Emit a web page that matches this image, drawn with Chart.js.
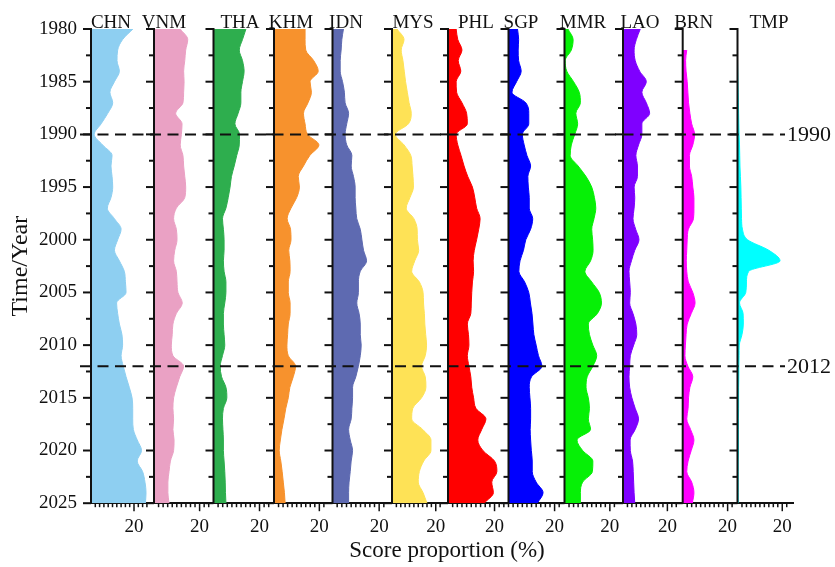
<!DOCTYPE html>
<html>
<head>
<meta charset="utf-8">
<script src="https://cdn.jsdelivr.net/npm/chart.js@4/dist/chart.umd.min.js"></script>
<style>
	html, body { margin: 0; padding: 0; background: #fff; }
	#wrap { width: 835px; height: 567px; }
</style>
</head>
<body>
<div id="wrap"><canvas id="mycanvas"></canvas></div>
<script>
var years = [1980,1981,1982,1983,1984,1985,1986,1987,1988,1989,
	1990,1991,1992,1993,1994,1995,1996,1997,1998,1999,
	2000,2001,2002,2003,2004,2005,2006,2007,2008,2009,
	2010,2011,2012,2013,2014,2015,2016,2017,2018,2019,
	2020,2021,2022,2023,2024,2025];

var countries = ['CHN','VNM','THA','KHM','IDN','MYS','PHL','SGP','MMR','LAO','BRN','TMP'];

// score proportion (%) per year, 1980 -> 2025
var chn = [19.5,14.7,12.4,12.1,13.2,10.9,8.8,10.1,7.8,4.7, 1.5,5.4,9.8,9.3,9.8,10.1,9.3,7.6,10.9,14.0, 12.4,10.9,13.2,15.5,16.0,16.3,11.9,12.4,13.2,14.4, 14.7,14.0,15.0,16.3,17.8,19.1,19.4,19.4,19.7,21.5, 23.5,21.5,24.0,25.1,25.6,25.3];
var vnm = [11.5,14.8,13.9,13.5,13.0,13.2,13.0,12.7,9.5,12.3, 12.0,11.5,12.7,13.0,13.5,13.9,13.5,9.8,8.6,9.8, 10.1,9.1,8.6,9.8,10.1,10.5,12.4,9.8,8.3,8.0, 7.6,8.3,13.0,11.3,9.8,8.6,8.3,8.6,8.3,8.8, 8.6,7.2,6.6,6.1,6.1,6.6];
var tha = [14.1,12.6,11.2,12.6,13.3,12.6,11.9,11.9,10.7,9.3, 11.3,11.2,10.1,9.0,7.8,7.2,6.4,5.4,3.9,4.3, 4.6,4.6,4.3,4.6,5.4,5.4,4.9,4.3,4.3,4.6, 4.9,3.9,2.9,3.5,5.4,5.8,4.3,3.9,4.1,4.3, 4.3,4.6,4.9,5.1,5.2,5.4];
var khm = [13.7,13.7,14.0,17.5,19.5,15.9,16.5,15.0,13.0,13.7, 14.8,19.8,15.8,13.0,10.7,11.2,10.0,7.5,5.8,7.3, 7.5,6.5,7.0,7.1,6.3,6.3,7.1,7.1,6.3,6.0, 5.7,6.3,9.5,8.5,7.0,6.3,5.2,4.4,3.5,2.8, 2.3,3.0,3.6,4.1,4.6,4.9];
var idn = [4.7,4.0,3.7,3.3,3.3,4.3,5.1,5.4,6.9,6.1, 5.4,6.1,8.3,8.0,9.0,9.7,9.7,10.0,10.4,11.9, 12.6,13.3,14.6,11.9,11.1,11.1,10.4,11.4,11.9,11.9, 12.3,11.9,11.1,10.0,8.6,8.6,8.3,8.0,6.9,7.6, 8.6,8.0,7.6,7.1,6.9,6.9];
var mys = [2.3,5.5,4.2,5.0,5.6,6.2,7.0,7.8,8.8,7.5, 1.5,5.5,8.6,9.2,9.6,9.8,8.2,6.5,10.0,11.5, 11.6,12.2,10.4,9.0,12.5,14.2,14.4,14.8,15.0,15.4, 15.8,15.2,13.5,15.2,15.5,13.5,9.5,9.0,14.0,17.8, 17.8,14.5,12.5,12.0,14.2,16.0];
var phl = [3.5,4.2,6.0,4.4,5.5,3.5,3.7,6.0,8.0,8.3, 3.5,4.2,5.6,6.9,8.5,10.5,11.5,12.3,13.8,13.2, 12.3,11.3,10.8,11.0,10.5,10.2,10.0,9.8,8.3,8.8, 9.0,8.3,9.0,9.8,10.2,11.0,12.0,16.3,14.5,12.8, 15.0,20.0,21.0,18.8,19.5,15.5];
var sgp = [3.9,4.4,4.2,4.4,5.5,3.5,1.5,7.5,8.8,8.8, 6.0,6.8,8.0,9.6,8.4,8.6,9.0,9.0,10.5,9.6, 7.5,6.5,5.0,4.5,7.0,8.8,9.5,10.2,10.6,11.0, 12.0,13.0,14.5,10.0,9.0,9.3,9.6,9.6,9.4,9.6, 9.9,10.3,10.3,12.0,15.0,12.5];
var mmr = [1.5,3.8,3.0,0.3,1.0,4.0,6.5,7.0,5.0,5.8, 4.5,3.0,2.5,6.0,9.5,12.0,13.2,13.8,13.0,12.0, 12.4,12.6,11.5,9.0,12.0,15.3,16.3,14.5,10.5,11.0, 12.5,14.2,12.5,10.0,9.5,10.5,11.0,10.5,11.5,5.5, 8.0,12.5,12.3,8.0,7.0,7.0];
var lao = [7.8,6.0,5.0,5.5,7.5,10.5,8.5,10.5,12.0,8.5, 8.5,7.0,5.8,6.5,6.5,5.0,5.3,5.0,4.5,5.7, 7.2,5.3,3.8,2.7,3.0,3.3,3.0,4.5,5.8,6.2, 4.8,3.3,3.0,2.7,3.0,4.0,5.5,7.0,5.5,3.2, 3.3,4.3,4.6,4.8,5.0,5.3];
var brn = [null,null,1.8,1.3,1.5,2.0,2.3,2.6,3.2,4.0, 5.3,4.5,3.0,3.0,4.0,4.5,5.0,5.0,4.8,2.5, 2.0,1.8,1.6,1.8,2.5,4.5,5.5,3.8,2.0,1.5, 1.2,1.0,2.3,4.5,3.2,2.6,2.4,1.8,3.5,5.0, 3.8,2.4,1.8,4.0,5.0,4.3];
var tmp = [0,0,0,0,0.1,0.2,0.3,0.4,0.5,0.6, 0.7,0.9,1.0,1.1,1.3,1.5,1.6,1.7,1.8,2.2, 4.5,14.0,19.0,5.0,4.0,3.7,0.9,2.5,2.6,2.0, 0.8,0.7,0.6,0.6,0.5,0.5,0.5,0.4,0.4,0.4, 0.4,0.3,0.3,0.3,0.3,0.3];

var series = [chn, vnm, tha, khm, idn, mys, phl, sgp, mmr, lao, brn, tmp];
var markYears = [1990, 2012];

// look of each panel
var colors = ['#8ecff1','#eaa1c4','#2eae4e','#f7922d','#5e6ab1','#fee256','#ff0000','#0000ff','#06f006','#7f00ff','#ff00ff','#00ffff'];
var panelMax = [29.3, 26.1, 26.3, 25.8, 25.5, 25.6, 26.0, 24.3, 25.8, 26.9, 24.4, 24.8];
var panelWidth = [63, 59.5, 60.5, 58.5, 59.5, 56, 60.5, 56, 58.5, 59.7, 54.8, 55.5];
var titleShift = [20, 10, 26.5, 17, 13.5, 21, 28, 12.5, 18.5, 17, 11, 31.5];

var serif = '"Liberation Serif", "Times New Roman", serif';
var ink = '#111';

var datasets = [];
var scales = {};

for (var i in countries) {
	var vals = series[i];
	var pts = [];
	for (var k in years) {
		if (vals[k] !== null) pts.push({x: vals[k], y: years[k]});
	}
	datasets.push({
		label: countries[i],
		data: pts,
		xAxisID: 'x' + i,
		yAxisID: 'y',
		backgroundColor: colors[i],
		borderColor: colors[i],
		borderWidth: 1,
		pointRadius: 0,
		fill: 'origin',
		cubicInterpolationMode: 'monotone'
	});
	scales['x' + i] = {
		type: 'linear',
		axis: 'x',
		position: 'bottom',
		stack: 'panels',
		stackWeight: panelWidth[i],
		min: 0,
		max: panelMax[i],
		bounds: 'data',
		grid: { drawOnChartArea: false, drawTicks: true, tickLength: 8, tickColor: 'rgba(0,0,0,0)' },
		border: { display: true, color: ink, width: 2 },
		ticks: {
			stepSize: 2,
			autoSkip: false,
			maxRotation: 0,
			minRotation: 0,
			padding: 4,
			color: ink,
			font: { family: serif, size: 19 },
			callback: function(v) { return v === 20 ? '20' : ''; }
		}
	};
}

scales.y = {
	type: 'linear',
	position: 'left',
	reverse: true,
	min: 1980,
	max: 2025,
	bounds: 'data',
	grid: { drawOnChartArea: false, drawTicks: true, tickLength: 8, tickColor: 'rgba(0,0,0,0)' },
	border: { display: true, color: ink, width: 2 },
	ticks: {
		stepSize: 2.5,
		maxTicksLimit: 100,
		autoSkip: false,
		padding: 6,
		color: ink,
		font: { family: serif, size: 19 },
		callback: function(v) { return v % 5 === 0 ? String(v) : ''; }
	},
	title: {
		display: true,
		text: 'Time/Year',
		color: ink,
		font: { family: serif, size: 24, lineHeight: 1 },
		padding: { top: 6, bottom: 0 }
	}
};

// panel axes, tick marks, names, the two dashed reference years
var panelPlugin = {
	id: 'panels',
	afterDatasetsDraw: function(chart) {
		var ctx = chart.ctx;
		var area = chart.chartArea;
		var ys = chart.scales.y;
		ctx.save();
		ctx.strokeStyle = ink;
		ctx.fillStyle = ink;

		ctx.lineWidth = 2;
		ctx.setLineDash([11, 6.5]);
		for (var m in markYears) {
			var my = ys.getPixelForValue(markYears[m]);
			ctx.beginPath();
			ctx.moveTo(area.left - 11, my);
			ctx.lineTo(area.right - 8, my);
			ctx.stroke();
		}
		ctx.setLineDash([]);

		for (var i in countries) {
			var xs = chart.scales['x' + i];
			var x0 = xs.getPixelForValue(0);

			ctx.lineWidth = 2;
			ctx.beginPath();
			ctx.moveTo(x0, area.top - 1);
			ctx.lineTo(x0, area.bottom);
			ctx.stroke();

			ys.ticks.forEach(function(t) {
				var py = ys.getPixelForValue(t.value);
				var len = t.value % 5 === 0 ? 8 : 5;
				ctx.beginPath();
				ctx.moveTo(x0 - len, py);
				ctx.lineTo(x0, py);
				ctx.stroke();
			});

			ctx.lineWidth = 1.5;
			xs.ticks.forEach(function(t) {
				if (Math.abs(t.value / 2 - Math.round(t.value / 2)) > 1e-6) return;
				if (t.value === 0) return;
				var px = xs.getPixelForValue(t.value);
				var len = t.value === 20 ? 8 : 4;
				ctx.beginPath();
				ctx.moveTo(px, area.bottom);
				ctx.lineTo(px, area.bottom + len);
				ctx.stroke();
			});

			ctx.font = '19px ' + serif;
			ctx.textAlign = 'center';
			ctx.textBaseline = 'alphabetic';
			ctx.fillText(countries[i], x0 + titleShift[i], area.top - 1);
		}

		ctx.font = '22px ' + serif;
		ctx.textAlign = 'left';
		ctx.textBaseline = 'middle';
		for (var n in markYears) {
			ctx.fillText(String(markYears[n]), area.right - 6, ys.getPixelForValue(markYears[n]) + 1);
		}

		ctx.font = '23px ' + serif;
		ctx.textAlign = 'center';
		ctx.textBaseline = 'alphabetic';
		ctx.fillText('Score proportion (%)', (area.left + area.right) / 2 + 5, area.bottom + 54);
		ctx.restore();
	}
};

var ctx = document.getElementById('mycanvas');

var chart = new Chart(ctx, {
	type: 'line',
	data: { datasets: datasets },
	options: {
		indexAxis: 'y',
		responsive: true,
		maintainAspectRatio: false,
		animation: false,
		events: [],
		layout: { padding: { left: 3, right: 42, top: 29, bottom: 25 } },
		plugins: {
			legend: { display: false },
			tooltip: { enabled: false }
		},
		scales: scales
	},
	plugins: [panelPlugin]
});
</script>
</body>
</html>
